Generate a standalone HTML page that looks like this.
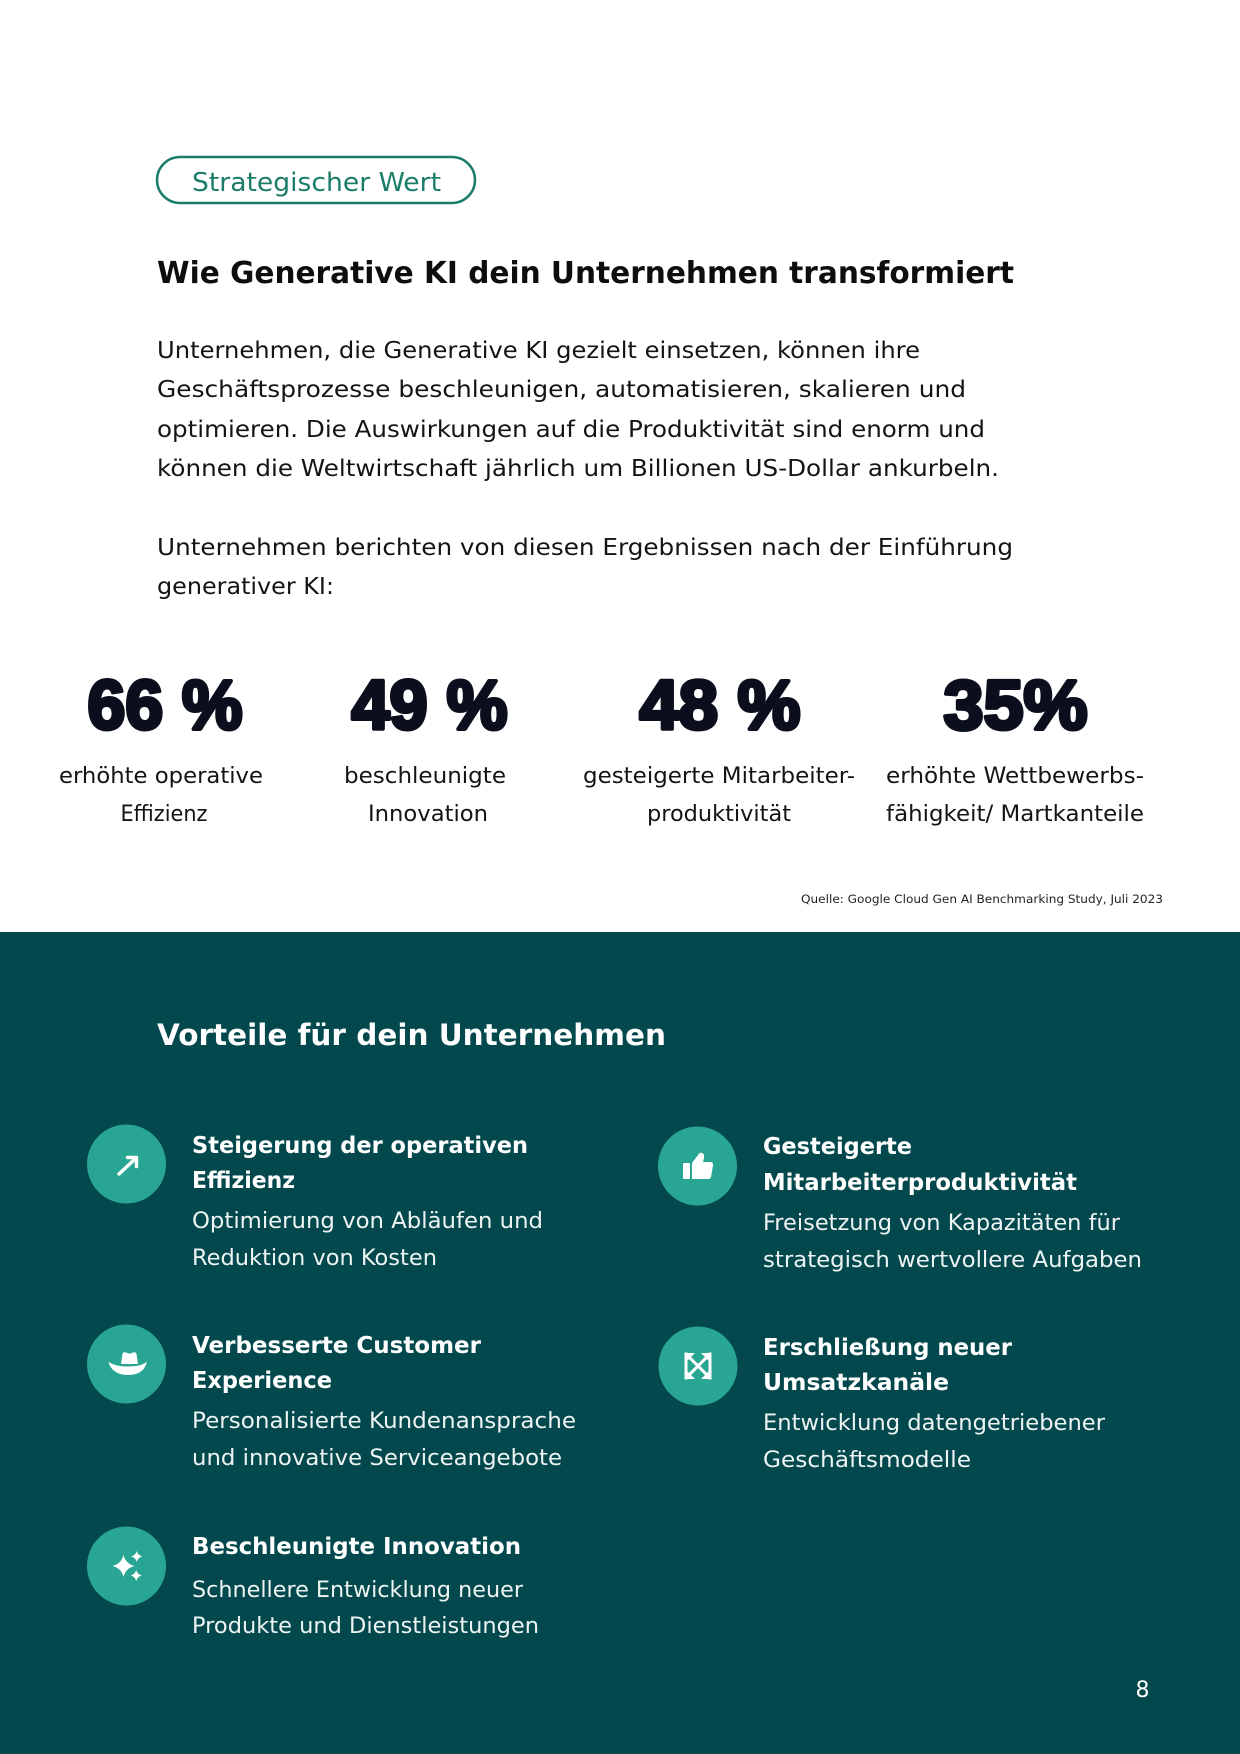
<!DOCTYPE html>
<html lang="de">
<head>
<meta charset="utf-8">
<title>Strategischer Wert</title>
<style>
  html, body { margin: 0; padding: 0; background: #ffffff; }
  body { width: 1240px; height: 1754px; overflow: hidden; }
  svg { display: block; }
  .r { font-family: "DejaVu Sans", "Liberation Sans", sans-serif; }
  .b { font-family: "DejaVu Sans", "Liberation Sans", sans-serif; font-weight: bold; }
  .num { font-family: "Liberation Sans", "DejaVu Sans", sans-serif; font-weight: bold; }
</style>
</head>
<body>
<svg width="1240" height="1754" viewBox="0 0 1240 1754" xmlns="http://www.w3.org/2000/svg">
  <!-- background -->
  <rect x="0" y="0" width="1240" height="1754" fill="#ffffff"/>

  <!-- pill -->
  <rect x="157" y="157" width="318" height="46" rx="23" ry="23" fill="none" stroke="#1b7d69" stroke-width="2.5"/>
  <text class="r" x="192" y="191" font-size="26" fill="#1b7d69" textLength="249" lengthAdjust="spacingAndGlyphs">Strategischer Wert</text>

  <!-- title -->
  <text class="b" x="157" y="283" font-size="30" fill="#0d0d0d" textLength="857" lengthAdjust="spacingAndGlyphs">Wie Generative KI dein Unternehmen transformiert</text>

  <!-- paragraph -->
  <g class="r" font-size="23" fill="#141414">
    <text x="157" y="358" textLength="763" lengthAdjust="spacingAndGlyphs">Unternehmen, die Generative KI gezielt einsetzen, können ihre</text>
    <text x="157" y="397" textLength="809" lengthAdjust="spacingAndGlyphs">Geschäftsprozesse beschleunigen, automatisieren, skalieren und</text>
    <text x="157" y="437" textLength="828" lengthAdjust="spacingAndGlyphs">optimieren. Die Auswirkungen auf die Produktivität sind enorm und</text>
    <text x="157" y="476" textLength="842" lengthAdjust="spacingAndGlyphs">können die Weltwirtschaft jährlich um Billionen US-Dollar ankurbeln.</text>
    <text x="157" y="555" textLength="856" lengthAdjust="spacingAndGlyphs">Unternehmen berichten von diesen Ergebnissen nach der Einführung</text>
    <text x="157" y="594" textLength="177" lengthAdjust="spacingAndGlyphs">generativer KI:</text>
  </g>

  <!-- stats numbers -->
  <g class="num" font-size="70" fill="#0a0e1d" stroke="#0a0e1d" stroke-width="4" stroke-linejoin="round" text-anchor="middle">
    <text x="165" y="729" textLength="155" lengthAdjust="spacingAndGlyphs">66 %</text>
    <text x="429.5" y="729" textLength="156" lengthAdjust="spacingAndGlyphs">49 %</text>
    <text x="720" y="729" textLength="161" lengthAdjust="spacingAndGlyphs">48 %</text>
    <text x="1015.5" y="729" textLength="144" lengthAdjust="spacingAndGlyphs">35%</text>
  </g>

  <!-- stats labels -->
  <g class="r" font-size="22" fill="#141414" text-anchor="middle">
    <text x="161" y="783" textLength="204" lengthAdjust="spacingAndGlyphs">erhöhte operative</text>
    <text x="164" y="821" textLength="87" lengthAdjust="spacingAndGlyphs">Effizienz</text>
    <text x="425" y="783" textLength="162" lengthAdjust="spacingAndGlyphs">beschleunigte</text>
    <text x="428" y="821" textLength="120" lengthAdjust="spacingAndGlyphs">Innovation</text>
    <text x="719" y="783" textLength="272" lengthAdjust="spacingAndGlyphs">gesteigerte Mitarbeiter-</text>
    <text x="719" y="821" textLength="144" lengthAdjust="spacingAndGlyphs">produktivität</text>
    <text x="1015" y="783" textLength="258" lengthAdjust="spacingAndGlyphs">erhöhte Wettbewerbs-</text>
    <text x="1015" y="821" textLength="258" lengthAdjust="spacingAndGlyphs">fähigkeit/ Martkanteile</text>
  </g>

  <!-- source -->
  <text class="r" x="1163" y="903" font-size="11.5" fill="#222222" text-anchor="end" textLength="362" lengthAdjust="spacingAndGlyphs">Quelle: Google Cloud Gen AI Benchmarking Study, Juli 2023</text>

  <!-- dark section -->
  <rect x="0" y="932" width="1240" height="822" fill="#03484d"/>

  <text class="b" x="157" y="1045" font-size="29.5" fill="#ffffff" textLength="509" lengthAdjust="spacingAndGlyphs">Vorteile für dein Unternehmen</text>

  <!-- circles -->
  <g fill="#29a693">
    <circle cx="126.5" cy="1164" r="39.5"/>
    <circle cx="697.5" cy="1166" r="39.5"/>
    <circle cx="126.5" cy="1364" r="39.5"/>
    <circle cx="698" cy="1366" r="39.5"/>
    <circle cx="126.5" cy="1566" r="39.5"/>
  </g>

  <!-- icon: arrow up-right -->
  <g stroke="#ffffff" stroke-width="3.4" fill="none" stroke-linecap="round" stroke-linejoin="round">
    <line x1="119" y1="1174" x2="135.5" y2="1158.5"/>
    <polyline points="127.5,1157.5 136.5,1157.5 136.5,1166.5"/>
  </g>

  <!-- icon: thumbs up -->
  <g fill="#ffffff">
    <rect x="683" y="1163" width="7" height="16" rx="1"/>
    <path d="M692,1163 L698,1155 Q700,1151.5 703,1153.5 Q704.5,1155 704,1158 L703,1162 L710,1162 Q713.5,1162 713,1165.5 L711,1177 Q710.5,1179 708,1179 L692,1179 Z"/>
  </g>

  <!-- icon: hat -->
  <g fill="#ffffff">
    <path d="M121,1364 L122.5,1354 Q123,1351.5 126,1352.5 L129.5,1353.8 L133,1352.5 Q136,1351.5 136.5,1354 L138,1364 Z"/>
    <path d="M108.3,1361.5 Q114,1366.5 128,1366.5 Q142,1366.5 147,1361.5 Q144,1375 128,1375 Q112,1375 108.3,1361.5 Z"/>
  </g>

  <!-- icon: expand arrows -->
  <g fill="#ffffff">
    <polygon points="685,1353 695,1353 685,1363"/>
    <polygon points="711,1353 701,1353 711,1363"/>
    <polygon points="685,1379 695,1379 685,1369"/>
    <polygon points="711,1379 701,1379 711,1369"/>
    <rect x="684.5" y="1352.5" width="3" height="27"/>
    <rect x="708.5" y="1352.5" width="3" height="27"/>
  </g>
  <g stroke="#ffffff" stroke-width="3" stroke-linecap="square">
    <line x1="688" y1="1356" x2="708" y2="1376"/>
    <line x1="708" y1="1356" x2="688" y2="1376"/>
  </g>

  <!-- icon: sparkles -->
  <g fill="#ffffff">
    <path d="M123.5,1555 Q125.7,1563.8 134.5,1566 Q125.7,1568.2 123.5,1577 Q121.3,1568.2 112.5,1566 Q121.3,1563.8 123.5,1555 Z"/>
    <path d="M136.7,1551 Q137.8,1555.4 142.2,1556.5 Q137.8,1557.6 136.7,1562 Q135.6,1557.6 131.2,1556.5 Q135.6,1555.4 136.7,1551 Z"/>
    <path d="M136.2,1570 Q137.3,1574.4 141.7,1575.5 Q137.3,1576.6 136.2,1581 Q135.1,1576.6 130.7,1575.5 Q135.1,1574.4 136.2,1570 Z"/>
  </g>

  <!-- item texts: titles -->
  <g class="b" font-size="23" fill="#ffffff">
    <text x="192" y="1153" textLength="336" lengthAdjust="spacingAndGlyphs">Steigerung der operativen</text>
    <text x="192" y="1188" textLength="103" lengthAdjust="spacingAndGlyphs">Effizienz</text>

    <text x="763" y="1154" textLength="149" lengthAdjust="spacingAndGlyphs">Gesteigerte</text>
    <text x="763" y="1190" textLength="314" lengthAdjust="spacingAndGlyphs">Mitarbeiterproduktivität</text>

    <text x="192" y="1353" textLength="289" lengthAdjust="spacingAndGlyphs">Verbesserte Customer</text>
    <text x="192" y="1388" textLength="140" lengthAdjust="spacingAndGlyphs">Experience</text>

    <text x="763" y="1355" textLength="249" lengthAdjust="spacingAndGlyphs">Erschließung neuer</text>
    <text x="763" y="1390" textLength="186" lengthAdjust="spacingAndGlyphs">Umsatzkanäle</text>

    <text x="192" y="1554" textLength="329" lengthAdjust="spacingAndGlyphs">Beschleunigte Innovation</text>
  </g>

  <!-- item texts: descriptions -->
  <g class="r" font-size="22.5" fill="#eef4f3">
    <text x="192" y="1228" textLength="351" lengthAdjust="spacingAndGlyphs">Optimierung von Abläufen und</text>
    <text x="192" y="1265" textLength="245" lengthAdjust="spacingAndGlyphs">Reduktion von Kosten</text>

    <text x="763" y="1230" textLength="357" lengthAdjust="spacingAndGlyphs">Freisetzung von Kapazitäten für</text>
    <text x="763" y="1267" textLength="379" lengthAdjust="spacingAndGlyphs">strategisch wertvollere Aufgaben</text>

    <text x="192" y="1428" textLength="384" lengthAdjust="spacingAndGlyphs">Personalisierte Kundenansprache</text>
    <text x="192" y="1465" textLength="370" lengthAdjust="spacingAndGlyphs">und innovative Serviceangebote</text>

    <text x="763" y="1430" textLength="342" lengthAdjust="spacingAndGlyphs">Entwicklung datengetriebener</text>
    <text x="763" y="1467" textLength="208" lengthAdjust="spacingAndGlyphs">Geschäftsmodelle</text>

    <text x="192" y="1597" textLength="331" lengthAdjust="spacingAndGlyphs">Schnellere Entwicklung neuer</text>
    <text x="192" y="1633" textLength="347" lengthAdjust="spacingAndGlyphs">Produkte und Dienstleistungen</text>
  </g>

  <!-- page number -->
  <text class="r" x="1142.5" y="1697" font-size="22" fill="#ffffff" text-anchor="middle">8</text>
</svg>
</body>
</html>
